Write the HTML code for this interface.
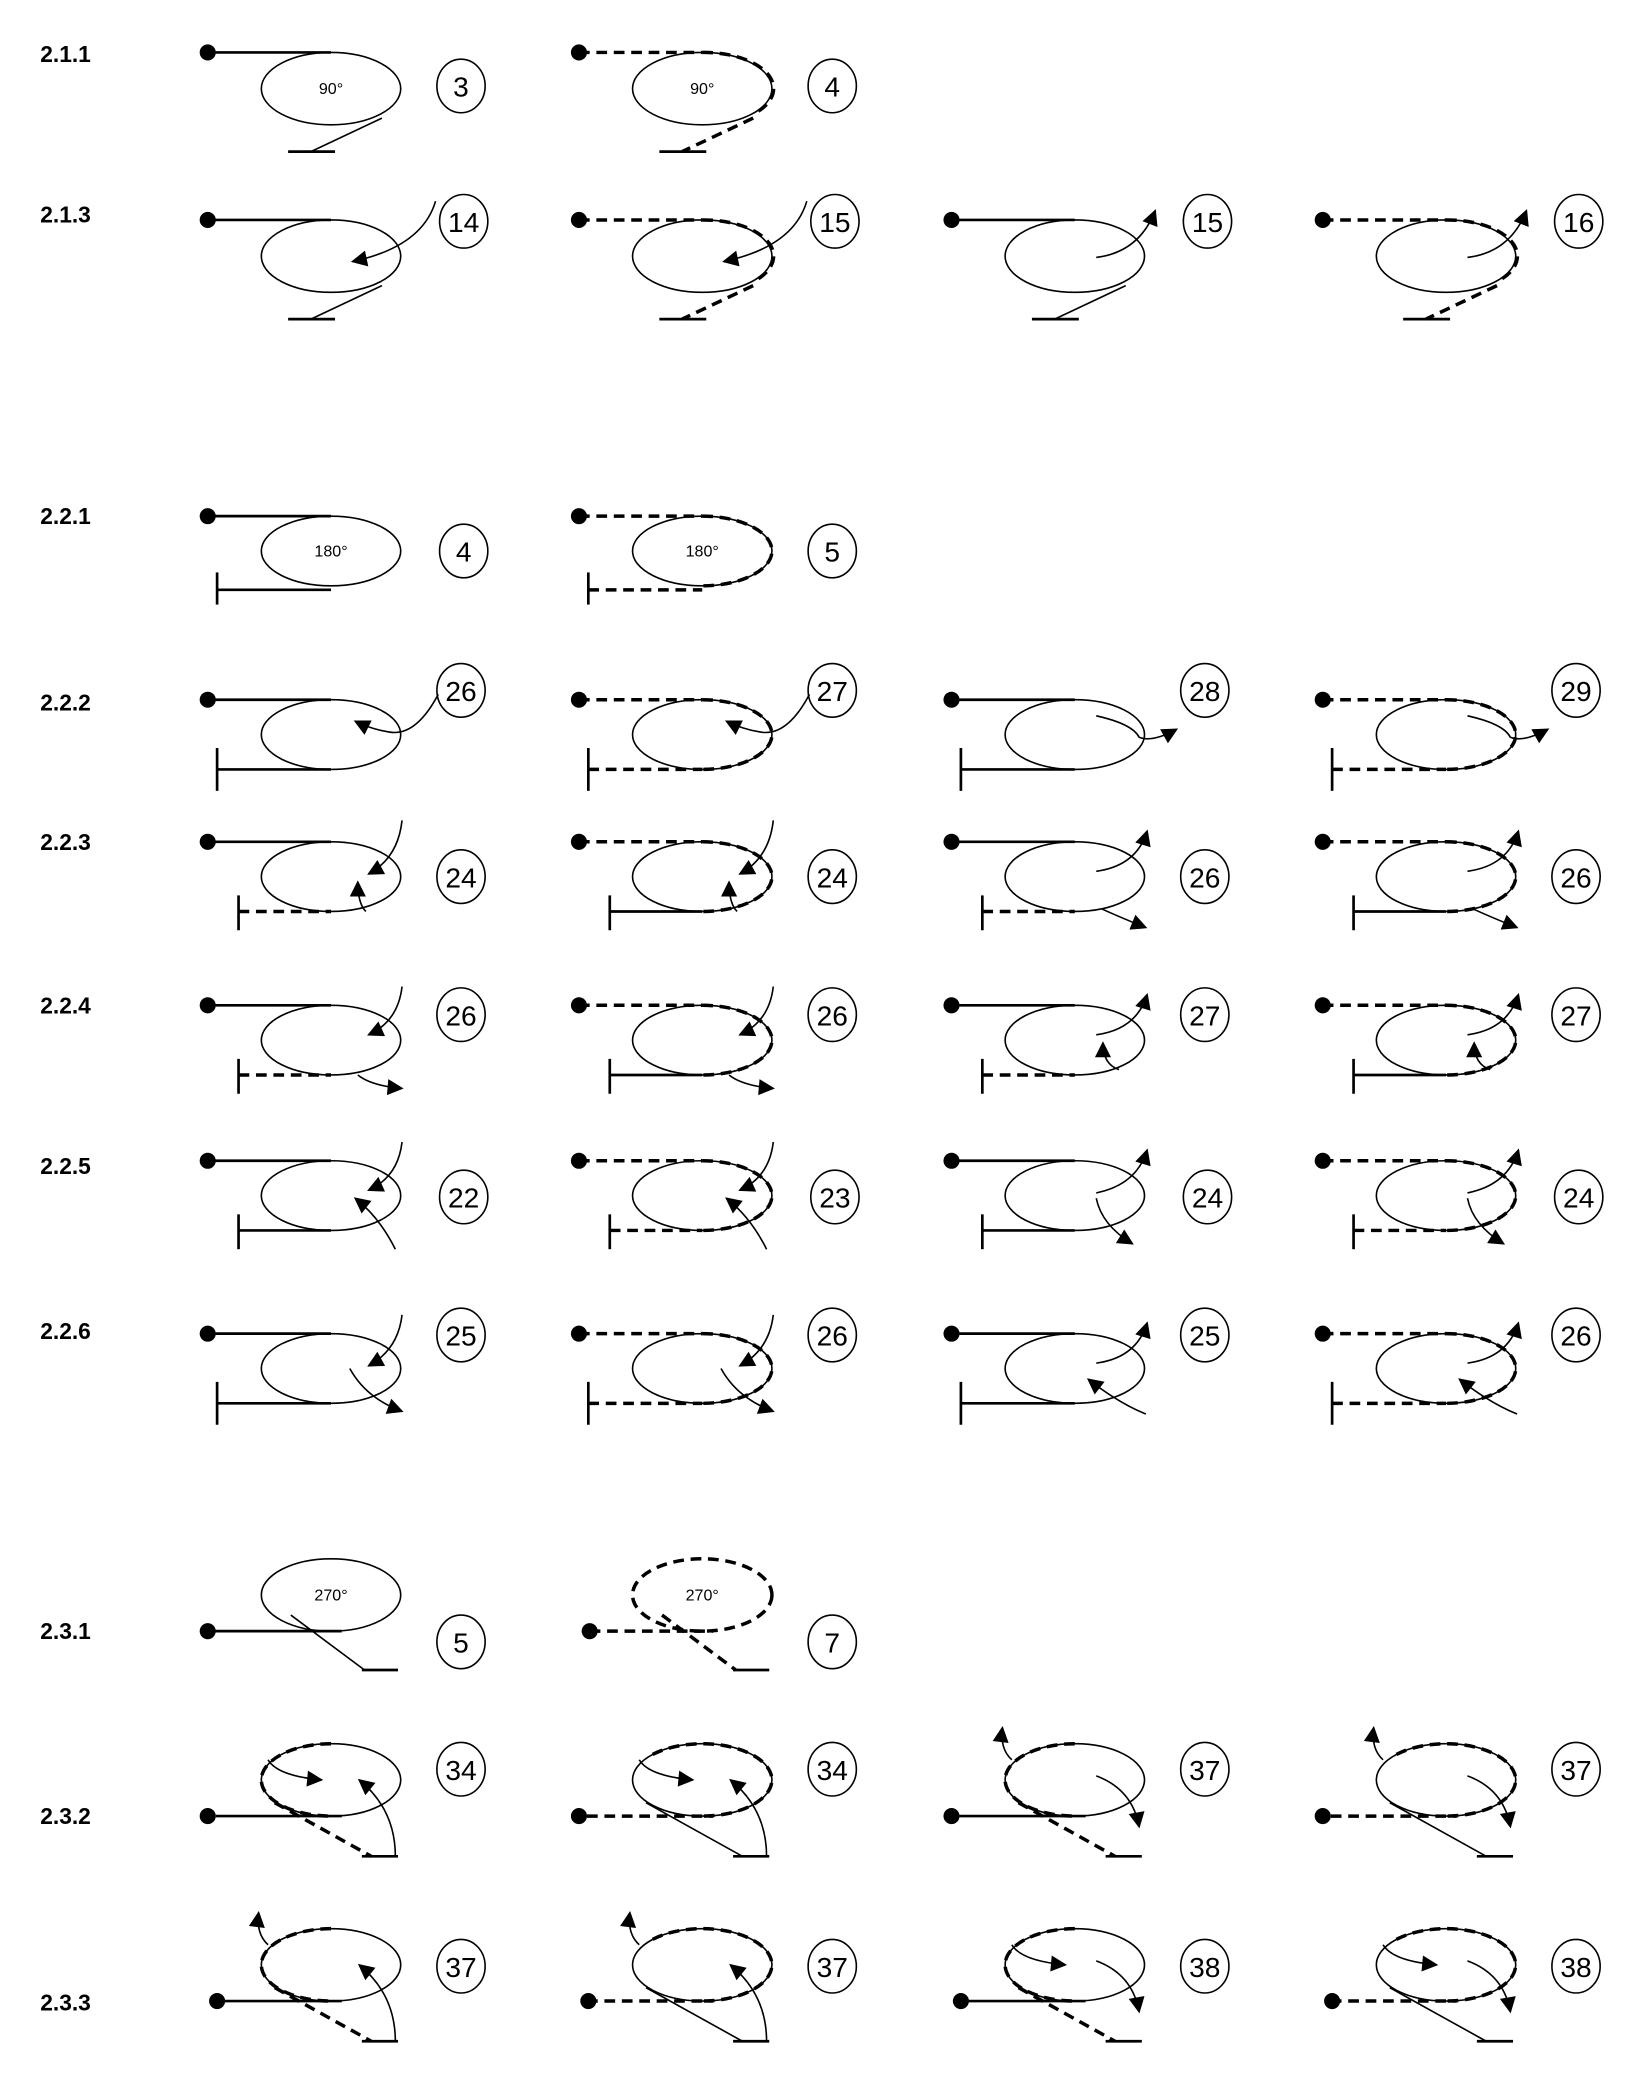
<!DOCTYPE html>
<html><head><meta charset="utf-8"><style>
html,body{margin:0;padding:0;background:#fff}
svg{display:block}
text{font-family:"Liberation Sans",sans-serif;fill:#000}
.lb{font-weight:bold;font-size:17px}
.n{font-size:21px;text-anchor:middle}
.t{font-size:12px;text-anchor:middle}
.th{fill:none;stroke:#000;stroke-width:1.2}
.ln{fill:none;stroke:#000;stroke-width:2}
.ds{fill:none;stroke:#000;stroke-width:2.6;stroke-dasharray:8 5}
.ar{fill:none;stroke:#000;stroke-width:1.2;marker-end:url(#ah)}
</style></head><body>
<svg width="1635" height="2091" viewBox="0 0 1220 1560" xmlns="http://www.w3.org/2000/svg">
<defs>
<marker id="ah" viewBox="0 0 10 10" refX="9" refY="5" markerUnits="userSpaceOnUse" markerWidth="14" markerHeight="12" orient="auto"><path d="M0,0L10,5L0,10z" fill="#000"/></marker>
<g id="a1"><circle r="6"/><path class="ln" d="M0,0H92"/><ellipse class="th" cx="92" cy="27" rx="52" ry="27"/><path class="th" d="M130,49L77,74"/><path class="ln" d="M60,74H95"/></g>
<g id="a2"><circle r="6"/><path class="ds" d="M0,0H92"/><ellipse class="th" cx="92" cy="27" rx="52" ry="27"/><path class="ds" d="M92,0A52,27 0 0 1 132,45"/><path class="ds" d="M130,49L77,74"/><path class="ln" d="M60,74H95"/></g>
<g id="bs"><circle r="6"/><path class="ln" d="M0,0H92"/><ellipse class="th" cx="92" cy="26" rx="52" ry="26"/></g>
<g id="bd"><circle r="6"/><path class="ds" d="M0,0H92"/><ellipse class="th" cx="92" cy="26" rx="52" ry="26"/><path class="ds" d="M92,0A52,26 0 0 1 92,52"/></g>
<g id="b7s"><path class="ln" d="M7,52H92"/><path class="ln" d="M7,36V68"/></g>
<g id="b7d"><path class="ds" d="M7,52H92"/><path class="ln" d="M7,36V68"/></g>
<g id="b23s"><path class="ln" d="M23,52H92"/><path class="ln" d="M23,40V66"/></g>
<g id="b23d"><path class="ds" d="M23,52H92"/><path class="ln" d="M23,40V66"/></g>
<g id="c1n"><path class="ln" d="M6,0H100"/><ellipse class="th" cx="92" cy="-27" rx="52" ry="27"/><path class="ds" d="M92,-54A52,27 0 0 0 92,0"/><path class="ds" d="M50,-10L122,30"/><path class="ln" d="M115,30H142"/></g>
<g id="c2n"><path class="ds" d="M6,0H100"/><ellipse class="th" cx="92" cy="-27" rx="52" ry="27"/><path class="ds" d="M55,-46A52,27 0 1 1 92,0"/><path class="th" d="M50,-10L122,30"/><path class="ln" d="M115,30H142"/></g>
<g id="c1"><circle r="6"/><use href="#c1n"/></g>
<g id="c2"><circle r="6"/><use href="#c2n"/></g>
<g id="c0s"><circle r="6"/><path class="ln" d="M0,0H100"/><ellipse class="th" cx="92" cy="-27" rx="52" ry="27"/><path class="th" d="M62,-12L117,29"/><path class="ln" d="M115,29H142"/></g>
</defs>

<text class="lb" x="30" y="46">2.1.1</text>
<text class="lb" x="30" y="166">2.1.3</text>
<text class="lb" x="30" y="391">2.2.1</text>
<text class="lb" x="30" y="530">2.2.2</text>
<text class="lb" x="30" y="634">2.2.3</text>
<text class="lb" x="30" y="756">2.2.4</text>
<text class="lb" x="30" y="876">2.2.5</text>
<text class="lb" x="30" y="999">2.2.6</text>
<text class="lb" x="30" y="1223">2.3.1</text>
<text class="lb" x="30" y="1361">2.3.2</text>
<text class="lb" x="30" y="1500">2.3.3</text>

<!-- 2.1.1 -->
<g transform="translate(155,39)"><use href="#a1"/><text class="t" x="92" y="31">90°</text><ellipse class="th" cx="189" cy="25" rx="18" ry="20"/><text class="n" x="189" y="33">3</text></g>
<g transform="translate(432,39)"><use href="#a2"/><text class="t" x="92" y="31">90°</text><ellipse class="th" cx="189" cy="25" rx="18" ry="20"/><text class="n" x="189" y="33">4</text></g>

<!-- 2.1.3 -->
<g transform="translate(155,164)"><use href="#a1"/><path class="ar" d="M170,-14Q160,20 108,31"/><ellipse class="th" cx="191" cy="1" rx="18" ry="20"/><text class="n" x="191" y="9">14</text></g>
<g transform="translate(432,164)"><use href="#a2"/><path class="ar" d="M170,-14Q160,20 108,31"/><ellipse class="th" cx="191" cy="1" rx="18" ry="20"/><text class="n" x="191" y="9">15</text></g>
<g transform="translate(710,164)"><use href="#a1"/><path class="ar" d="M108,28Q140,24 152,-7"/><ellipse class="th" cx="191" cy="1" rx="18" ry="20"/><text class="n" x="191" y="9">15</text></g>
<g transform="translate(987,164)"><use href="#a2"/><path class="ar" d="M108,28Q140,24 152,-7"/><ellipse class="th" cx="191" cy="1" rx="18" ry="20"/><text class="n" x="191" y="9">16</text></g>

<!-- 2.2.1 -->
<g transform="translate(155,385)"><use href="#bs"/><path class="ln" d="M7,55H92"/><path class="ln" d="M7,42V66"/><text class="t" x="92" y="30">180°</text><ellipse class="th" cx="191" cy="26" rx="18" ry="20"/><text class="n" x="191" y="34">4</text></g>
<g transform="translate(432,385)"><use href="#bd"/><path class="ds" d="M7,55H92"/><path class="ln" d="M7,42V66"/><text class="t" x="92" y="30">180°</text><ellipse class="th" cx="189" cy="26" rx="18" ry="20"/><text class="n" x="189" y="34">5</text></g>

<!-- 2.2.2 -->
<g transform="translate(155,522)"><use href="#bs"/><use href="#b7s"/><path class="ar" d="M172,-4Q155,28 135,24Q122,22 110,16"/><ellipse class="th" cx="189" cy="-7" rx="18" ry="20"/><text class="n" x="189" y="1">26</text></g>
<g transform="translate(432,522)"><use href="#bd"/><use href="#b7d"/><path class="ar" d="M172,-4Q155,28 135,24Q122,22 110,16"/><ellipse class="th" cx="189" cy="-7" rx="18" ry="20"/><text class="n" x="189" y="1">27</text></g>
<g transform="translate(710,522)"><use href="#bs"/><use href="#b7s"/><path class="ar" d="M108,12Q135,18 140,28Q150,32 168,22"/><ellipse class="th" cx="189" cy="-7" rx="18" ry="20"/><text class="n" x="189" y="1">28</text></g>
<g transform="translate(987,522)"><use href="#bd"/><use href="#b7d"/><path class="ar" d="M108,12Q135,18 140,28Q150,32 168,22"/><ellipse class="th" cx="189" cy="-7" rx="18" ry="20"/><text class="n" x="189" y="1">29</text></g>

<!-- 2.2.3 -->
<g transform="translate(155,628)"><use href="#bs"/><use href="#b23d"/><path class="ar" d="M145,-16Q142,12 120,24"/><path class="ar" d="M118,52Q112,46 112,30"/><ellipse class="th" cx="189" cy="26" rx="18" ry="20"/><text class="n" x="189" y="34">24</text></g>
<g transform="translate(432,628)"><use href="#bd"/><use href="#b23s"/><path class="ar" d="M145,-16Q142,12 120,24"/><path class="ar" d="M118,52Q112,46 112,30"/><ellipse class="th" cx="189" cy="26" rx="18" ry="20"/><text class="n" x="189" y="34">24</text></g>
<g transform="translate(710,628)"><use href="#bs"/><use href="#b23d"/><path class="ar" d="M108,22Q138,18 146,-8"/><path class="ar" d="M112,50Q125,56 145,64"/><ellipse class="th" cx="189" cy="26" rx="18" ry="20"/><text class="n" x="189" y="34">26</text></g>
<g transform="translate(987,628)"><use href="#bd"/><use href="#b23s"/><path class="ar" d="M108,22Q138,18 146,-8"/><path class="ar" d="M112,50Q125,56 145,64"/><ellipse class="th" cx="189" cy="26" rx="18" ry="20"/><text class="n" x="189" y="34">26</text></g>

<!-- 2.2.4 -->
<g transform="translate(155,750)"><use href="#bs"/><use href="#b23d"/><path class="ar" d="M145,-14Q142,12 120,22"/><path class="ar" d="M112,52Q122,60 145,62"/><ellipse class="th" cx="189" cy="7" rx="18" ry="20"/><text class="n" x="189" y="15">26</text></g>
<g transform="translate(432,750)"><use href="#bd"/><use href="#b23s"/><path class="ar" d="M145,-14Q142,12 120,22"/><path class="ar" d="M112,52Q122,60 145,62"/><ellipse class="th" cx="189" cy="7" rx="18" ry="20"/><text class="n" x="189" y="15">26</text></g>
<g transform="translate(710,750)"><use href="#bs"/><use href="#b23d"/><path class="ar" d="M108,22Q138,18 146,-8"/><path class="ar" d="M125,48Q113,44 113,28"/><ellipse class="th" cx="189" cy="7" rx="18" ry="20"/><text class="n" x="189" y="15">27</text></g>
<g transform="translate(987,750)"><use href="#bd"/><use href="#b23s"/><path class="ar" d="M108,22Q138,18 146,-8"/><path class="ar" d="M125,48Q113,44 113,28"/><ellipse class="th" cx="189" cy="7" rx="18" ry="20"/><text class="n" x="189" y="15">27</text></g>

<!-- 2.2.5 -->
<g transform="translate(155,866)"><use href="#bs"/><use href="#b23s"/><path class="ar" d="M145,-14Q142,12 120,22"/><path class="ar" d="M140,66Q128,42 110,28"/><ellipse class="th" cx="191" cy="27" rx="18" ry="20"/><text class="n" x="191" y="35">22</text></g>
<g transform="translate(432,866)"><use href="#bd"/><use href="#b23d"/><path class="ar" d="M145,-14Q142,12 120,22"/><path class="ar" d="M140,66Q128,42 110,28"/><ellipse class="th" cx="191" cy="27" rx="18" ry="20"/><text class="n" x="191" y="35">23</text></g>
<g transform="translate(710,866)"><use href="#bs"/><use href="#b23s"/><path class="ar" d="M108,24Q138,18 146,-8"/><path class="ar" d="M108,28Q112,48 135,62"/><ellipse class="th" cx="191" cy="27" rx="18" ry="20"/><text class="n" x="191" y="35">24</text></g>
<g transform="translate(987,866)"><use href="#bd"/><use href="#b23d"/><path class="ar" d="M108,24Q138,18 146,-8"/><path class="ar" d="M108,28Q112,48 135,62"/><ellipse class="th" cx="191" cy="27" rx="18" ry="20"/><text class="n" x="191" y="35">24</text></g>

<!-- 2.2.6 -->
<g transform="translate(155,995)"><use href="#bs"/><use href="#b7s"/><path class="ar" d="M145,-14Q142,12 120,24"/><path class="ar" d="M106,26Q118,48 145,58"/><ellipse class="th" cx="189" cy="1" rx="18" ry="20"/><text class="n" x="189" y="9">25</text></g>
<g transform="translate(432,995)"><use href="#bd"/><use href="#b7d"/><path class="ar" d="M145,-14Q142,12 120,24"/><path class="ar" d="M106,26Q118,48 145,58"/><ellipse class="th" cx="189" cy="1" rx="18" ry="20"/><text class="n" x="189" y="9">26</text></g>
<g transform="translate(710,995)"><use href="#bs"/><use href="#b7s"/><path class="ar" d="M108,22Q138,18 146,-8"/><path class="ar" d="M145,60Q125,52 102,34"/><ellipse class="th" cx="189" cy="1" rx="18" ry="20"/><text class="n" x="189" y="9">25</text></g>
<g transform="translate(987,995)"><use href="#bd"/><use href="#b7d"/><path class="ar" d="M108,22Q138,18 146,-8"/><path class="ar" d="M145,60Q125,52 102,34"/><ellipse class="th" cx="189" cy="1" rx="18" ry="20"/><text class="n" x="189" y="9">26</text></g>

<!-- 2.3.1 -->
<g transform="translate(155,1217)"><use href="#c0s"/><text class="t" x="92" y="-23">270°</text><ellipse class="th" cx="189" cy="8" rx="18" ry="20"/><text class="n" x="189" y="16">5</text></g>
<g transform="translate(432,1217)"><circle cx="8" r="6"/><path class="ds" d="M8,0H100"/><ellipse class="ds" cx="92" cy="-27" rx="52" ry="27"/><path class="ds" d="M62,-12L117,29"/><path class="ln" d="M115,29H142"/><text class="t" x="92" y="-23">270°</text><ellipse class="th" cx="189" cy="8" rx="18" ry="20"/><text class="n" x="189" y="16">7</text></g>

<!-- 2.3.2 -->
<g transform="translate(155,1355)"><use href="#c1"/><path class="ar" d="M45,-42Q52,-30 85,-27"/><path class="ar" d="M140,30Q140,-5 113,-27"/><ellipse class="th" cx="189" cy="-35" rx="18" ry="20"/><text class="n" x="189" y="-27">34</text></g>
<g transform="translate(432,1355)"><use href="#c2"/><path class="ar" d="M45,-42Q52,-30 85,-27"/><path class="ar" d="M140,30Q140,-5 113,-27"/><ellipse class="th" cx="189" cy="-35" rx="18" ry="20"/><text class="n" x="189" y="-27">34</text></g>
<g transform="translate(710,1355)"><use href="#c1"/><path class="ar" d="M45,-42Q36,-50 38,-66"/><path class="ar" d="M108,-30Q135,-20 140,8"/><ellipse class="th" cx="189" cy="-35" rx="18" ry="20"/><text class="n" x="189" y="-27">37</text></g>
<g transform="translate(987,1355)"><use href="#c2"/><path class="ar" d="M45,-42Q36,-50 38,-66"/><path class="ar" d="M108,-30Q135,-20 140,8"/><ellipse class="th" cx="189" cy="-35" rx="18" ry="20"/><text class="n" x="189" y="-27">37</text></g>

<!-- 2.3.3 -->
<g transform="translate(155,1493)"><circle cx="7" r="6"/><use href="#c1n"/><path class="ar" d="M45,-42Q36,-50 38,-66"/><path class="ar" d="M140,30Q140,-5 113,-27"/><ellipse class="th" cx="189" cy="-26" rx="18" ry="20"/><text class="n" x="189" y="-18">37</text></g>
<g transform="translate(432,1493)"><circle cx="7" r="6"/><use href="#c2n"/><path class="ar" d="M45,-42Q36,-50 38,-66"/><path class="ar" d="M140,30Q140,-5 113,-27"/><ellipse class="th" cx="189" cy="-26" rx="18" ry="20"/><text class="n" x="189" y="-18">37</text></g>
<g transform="translate(710,1493)"><circle cx="7" r="6"/><use href="#c1n"/><path class="ar" d="M45,-42Q52,-30 85,-27"/><path class="ar" d="M108,-30Q135,-20 140,8"/><ellipse class="th" cx="189" cy="-26" rx="18" ry="20"/><text class="n" x="189" y="-18">38</text></g>
<g transform="translate(987,1493)"><circle cx="7" r="6"/><use href="#c2n"/><path class="ar" d="M45,-42Q52,-30 85,-27"/><path class="ar" d="M108,-30Q135,-20 140,8"/><ellipse class="th" cx="189" cy="-26" rx="18" ry="20"/><text class="n" x="189" y="-18">38</text></g>
</svg>
</body></html>
